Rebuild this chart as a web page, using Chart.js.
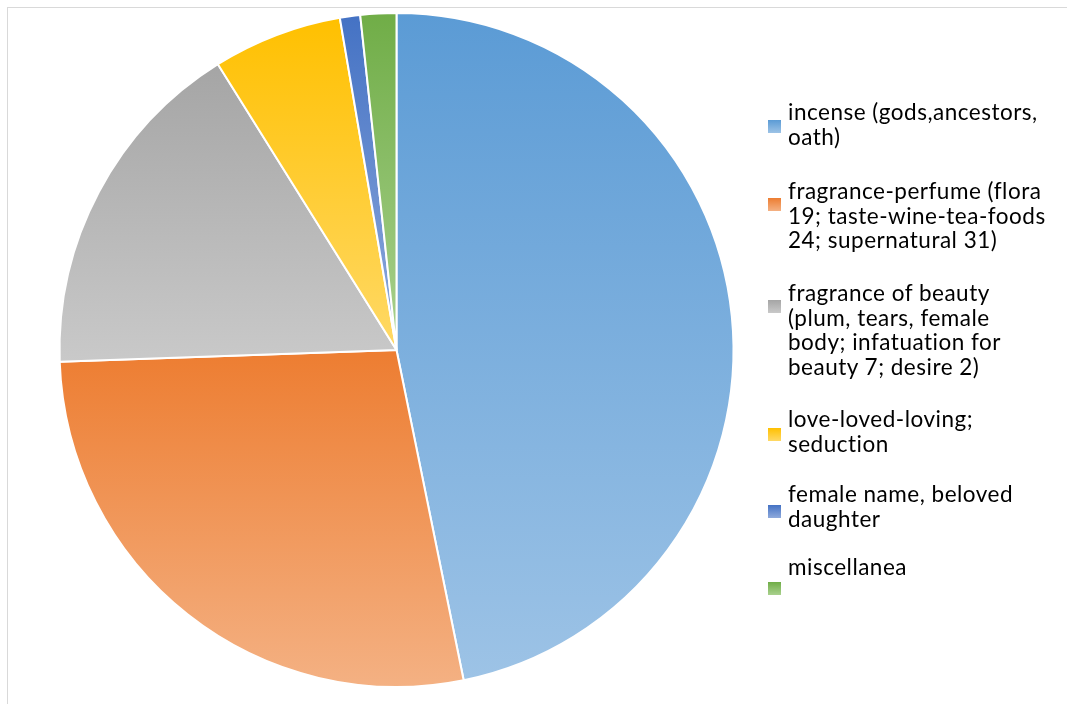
<!DOCTYPE html>
<html>
<head>
<meta charset="utf-8">
<script src="https://cdn.jsdelivr.net/npm/chart.js@4.4.1/dist/chart.umd.min.js"></script>
<style>
  html, body { margin: 0; padding: 0; background: #fff; overflow: hidden; }
  #wrap { position: relative; width: 1067px; height: 704px; }
  #frame { position: absolute; left: 7px; top: 7px; width: 1200px; height: 900px; border: 1px solid #d9d9d9; }
  #chart-pie { position: absolute; left: 0; top: 0; }
  .legend-item { position: absolute; left: 788px; width: 279px; font-family: Lato, sans-serif; font-size: 22.5px; letter-spacing: 0.5px; line-height: 24.5px; color: #000; white-space: nowrap; }
  .legend-box { position: absolute; left: 768px; width: 13px; height: 13px; }
</style>
</head>
<body>
<div id="wrap">
  <div id="frame"></div>
  <canvas id="chart-pie" width="1067" height="704"></canvas>
  <div id="legend"></div>
</div>
<script>
// categorias (cada una es una lista de lineas tal como aparecen en la leyenda)
const labels = [
  ['incense (gods,ancestors,', 'oath)'],
  ['fragrance-perfume (flora', '19; taste-wine-tea-foods', '24; supernatural 31)'],
  ['fragrance of beauty', '(plum, tears, female', 'body; infatuation for', 'beauty 7; desire 2)'],
  ['love-loved-loving;', 'seduction'],
  ['female name, beloved', 'daughter'],
  ['miscellanea']
];
// valores estimados del grafico
const values = [125.3, 74, 44.6, 16.6, 2.6, 4.6];

// colores: arriba -> abajo del degradado
const topColors = ['#5B9BD5', '#ED7D31', '#A5A5A5', '#FFC000', '#4472C4', '#70AD47'];
const bottomColors = ['#9DC3E6', '#F4B183', '#C9C9C9', '#FFD966', '#8FAADC', '#A9D18E'];

// posicion vertical de la leyenda (primera linea base y cuadro)
const legendBaseline = [121, 200, 302, 428, 503, 576];
const legendBoxTop = [120, 198, 300, 428, 505, 582];

// degradado vertical por cada porcion, segun su caja
const sliceGradient = (context) => {
  const chart = context.chart;
  const area = chart.chartArea;
  if (!area) return topColors[context.dataIndex];
  const i = context.dataIndex;
  const meta = chart.getDatasetMeta(0);
  const arc = meta.data[i];
  let cx, cy, r, a0, a1;
  if (arc && arc.outerRadius) {
    cx = arc.x; cy = arc.y; r = arc.outerRadius; a0 = arc.startAngle; a1 = arc.endAngle;
  } else {
    const total = values.reduce((s, v) => s + v, 0);
    const before = values.slice(0, i).reduce((s, v) => s + v, 0);
    cx = (area.left + area.right) / 2; cy = (area.top + area.bottom) / 2;
    r = Math.min(area.width, area.height) / 2;
    a0 = -Math.PI / 2 + before / total * Math.PI * 2;
    a1 = a0 + values[i] / total * Math.PI * 2;
  }
  let ys = [cy, cy + r * Math.sin(a0), cy + r * Math.sin(a1)];
  // comprobar si el arco cruza arriba (-90) o abajo (90)
  [-Math.PI / 2, Math.PI / 2, 3 * Math.PI / 2].forEach(a => {
    if (a > a0 && a < a1) ys.push(cy + r * Math.sin(a));
  });
  const y0 = Math.min(...ys), y1 = Math.max(...ys);
  const g = chart.ctx.createLinearGradient(0, y0, 0, y1);
  g.addColorStop(0, topColors[i]);
  g.addColorStop(1, bottomColors[i]);
  return g;
};

const ctx = document.getElementById('chart-pie').getContext('2d');
const chartPie = new Chart(ctx, {
  type: 'pie',
  data: {
    labels: labels.map(l => l.join(' ')),
    datasets: [{
      data: values,
      backgroundColor: sliceGradient,
      borderColor: '#ffffff',
      borderWidth: 2
    }]
  },
  options: {
    responsive: false,
    animation: false,
    rotation: 0,
    layout: { padding: { left: 58, top: 12, right: 332, bottom: 16 } },
    plugins: {
      legend: { display: false },
      tooltip: { enabled: false }
    }
  }
});
chartPie.update();

// leyenda a la derecha
const legendEl = document.getElementById('legend');
labels.forEach((lines, i) => {
  const box = document.createElement('div');
  box.className = 'legend-box';
  box.style.top = legendBoxTop[i] + 'px';
  box.style.background = 'linear-gradient(' + topColors[i] + ', ' + bottomColors[i] + ')';
  legendEl.appendChild(box);

  const item = document.createElement('div');
  item.className = 'legend-item';
  item.style.top = (legendBaseline[i] - 21) + 'px';
  item.innerHTML = lines.join('<br>');
  legendEl.appendChild(item);
});
</script>
</body>
</html>
